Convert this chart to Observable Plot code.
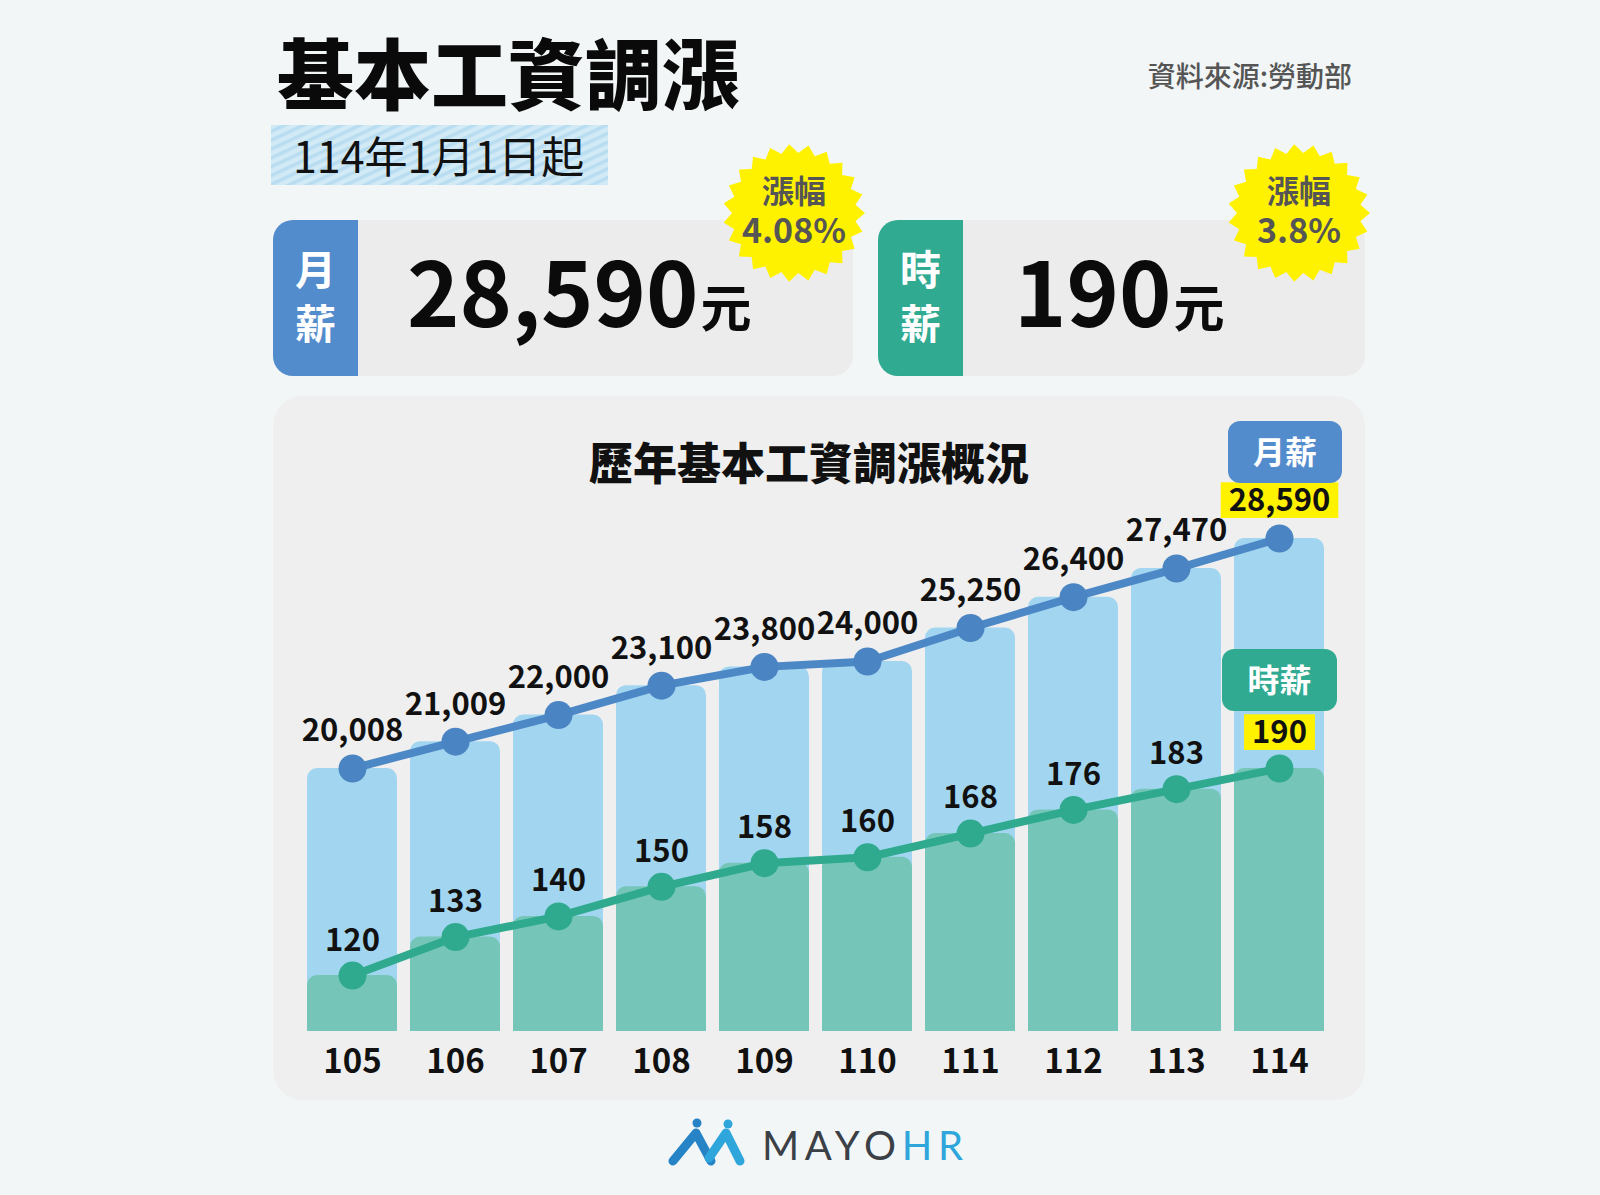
<!DOCTYPE html>
<html lang="zh-Hant"><head><meta charset="utf-8">
<script src="https://cdn.jsdelivr.net/npm/d3@7"></script>
<script src="https://cdn.jsdelivr.net/npm/@observablehq/plot@0.6"></script>
<style>
html,body{margin:0;padding:0}
body{width:1600px;height:1195px;background:#f2f6f7;position:relative;overflow:hidden;font-family:"Noto Sans CJK TC",sans-serif}
svg.layer{position:absolute;left:0;top:0}
#chart-m,#chart-h{position:absolute;left:273px;top:470px;width:1092px;height:630px}
</style></head><body>
<svg class="layer" id="bg" width="1600" height="1195"></svg>
<div id="chart-m"></div>
<div id="chart-h"></div>
<svg class="layer" id="fg" width="1600" height="1195"></svg>
<script>
// ---- data ----
const years = ["105","106","107","108","109","110","111","112","113","114"];
const monthly = [20008,21009,22000,23100,23800,24000,25250,26400,27470,28590];
const hourly = [120,133,140,150,158,160,168,176,183,190];
const raiseRates = ["4.08%","3.8%"];
const seriesNames = ["月薪","時薪"];
const mDomain = [10195, 29635];
const hDomain = [101.1, 277.2];

const F = '"Noto Sans CJK TC", "Noto Sans CJK SC", sans-serif';
const NS = "http://www.w3.org/2000/svg";
const fmt = d3.format(",");

// ---- background layer ----
const bg = d3.select("#bg");
function txt(sel, s, x, y, size, weight, fill, anchor) {
  return sel.append("text").attr("x", x).attr("y", y).attr("font-size", size)
    .attr("font-weight", weight).attr("fill", fill).attr("text-anchor", anchor || "start")
    .attr("font-family", F).text(s);
}
function txt2(sel, a, b, x, y, gap, size, sizeB, weight, fill) {
  const t = sel.append("text").attr("x", x).attr("y", y).attr("font-weight", weight)
    .attr("fill", fill).attr("text-anchor", "middle").attr("font-family", F);
  t.append("tspan").attr("x", x).attr("font-size", size).text(a);
  t.append("tspan").attr("x", x).attr("dy", gap).attr("font-size", sizeB).text(b);
  return t;
}
const defs = bg.append("defs");
const pat = defs.append("pattern").attr("id", "hatch").attr("patternUnits", "userSpaceOnUse")
  .attr("width", 8).attr("height", 8).attr("patternTransform", "rotate(-25)");
pat.append("rect").attr("width", 8).attr("height", 8).attr("fill", "#d2eaf6");
pat.append("rect").attr("width", 8).attr("height", 3.5).attr("fill", "#b8ddf0");

// title
txt(bg, "基本工資調漲", 277, 104, 77, 900, "#0a0a0a");
bg.append("rect").attr("x", 271).attr("y", 125).attr("width", 337).attr("height", 60).attr("fill", "url(#hatch)");
txt(bg, "114年1月1日起", 293, 173, 43, 400, "#111");
txt(bg, "資料來源:勞動部", 1352, 87, 28, 500, "#555", "end");

// cards
function card(x, w, tabColor, label) {
  const y0 = 220, h = 156, r = 20, tw = 85;
  bg.append("rect").attr("x", x).attr("y", y0).attr("width", w).attr("height", h).attr("rx", r).attr("fill", "#ececec");
  bg.append("path").attr("d", `M${x+tw},${y0} H${x+r} A${r},${r} 0 0 0 ${x},${y0+r} V${y0+h-r} A${r},${r} 0 0 0 ${x+r},${y0+h} H${x+tw} Z`).attr("fill", tabColor);
  txt2(bg, label[0], label[1], x + tw/2, 285, 54, 41, 41, 700, "#fff");
}
card(273, 580, "#538ccd", seriesNames[0]);
card(878, 487, "#30aa91", seriesNames[1]);
const n1 = txt(bg, "", 407, 327, 89, 700, "#0b0b0b");
n1.append("tspan").text(fmt(monthly[monthly.length-1]));
n1.append("tspan").attr("font-size", 51).attr("font-weight", 700).attr("dx", 2).text("元");
const n2 = txt(bg, "", 1014, 327, 89, 700, "#0b0b0b");
n2.append("tspan").text(fmt(hourly[hourly.length-1]));
n2.append("tspan").attr("font-size", 51).attr("font-weight", 700).attr("dx", 2).text("元");

function burst(cx, cy, R, rate) {
  const N = 46;
  const pts = d3.range(N).map(i => {
    const a = i / N * 2 * Math.PI;
    const r = i % 2 ? R - 9 : R;
    return [cx + r * Math.cos(a), cy + r * Math.sin(a) * 0.97];
  });
  bg.append("polygon").attr("points", pts.map(p => p.join(",")).join(" ")).attr("fill", "#fff200");
  txt2(bg, "漲幅", rate, cx, cy - 10, 40, 32, 34, 700, "#555");
}
burst(794, 213, 71, raiseRates[0]);
burst(1299, 213, 71, raiseRates[1]);

// chart panel
bg.append("rect").attr("x", 273).attr("y", 396).attr("width", 1092).attr("height", 704).attr("rx", 30).attr("fill", "#efefef");
txt(bg, "歷年基本工資調漲概況", 809, 480, 44, 900, "#111", "middle");

// logo
const logo = bg.append("g");
logo.append("path").attr("d", "M673,1161 L696,1133 L711,1161").attr("fill", "none")
  .attr("stroke", "#2684c6").attr("stroke-width", 9).attr("stroke-linecap", "round").attr("stroke-linejoin", "round");
logo.append("path").attr("d", "M709,1158 L726,1133 L740,1161").attr("fill", "none")
  .attr("stroke", "#2ea6dc").attr("stroke-width", 9).attr("stroke-linecap", "round").attr("stroke-linejoin", "round");
logo.append("circle").attr("cx", 697).attr("cy", 1123).attr("r", 4.5).attr("fill", "#2684c6");
logo.append("circle").attr("cx", 728).attr("cy", 1124).attr("r", 4.5).attr("fill", "#2ea6dc");
const lt = logo.append("text").attr("x", 762).attr("y", 1160).attr("font-size", 40)
  .attr("font-family", "Lato, 'Open Sans', sans-serif").attr("font-weight", 400)
  .attr("textLength", 201).attr("lengthAdjust", "spacing");
lt.append("tspan").attr("fill", "#3b4046").text("MAYO");
lt.append("tspan").attr("fill", "#2ea6dc").text("HR");

// ---- charts ----
const mData = years.map((year, i) => ({year, value: monthly[i]}));
const hData = years.map((year, i) => ({year, value: hourly[i]}));
const base = {
  width: 1092, height: 630, marginLeft: 19, marginRight: 27, marginTop: 40, marginBottom: 69,
  x: {type: "band", domain: years, padding: 0.13, label: null},
  style: {background: "transparent", fontFamily: F, color: "#111", overflow: "visible", fontWeight: 700}
};
const pm = Plot.plot({
  ...base,
  y: {domain: mDomain, axis: null},
  marks: [
    Plot.barY(mData, {x: "year", y1: mDomain[0], y2: "value", fill: "#a2d6f0", ry1: 10}),
    Plot.line(mData, {x: "year", y: "value", stroke: "#4c87c6", strokeWidth: 8}),
    Plot.dot(mData, {x: "year", y: "value", r: 14, fill: "#4a84c2"}),
    Plot.text(mData, {x: "year", y: "value", text: d => fmt(d.value), dy: -37, fontSize: 31, fontWeight: 700, fill: "#111"}),
    Plot.axisX({tickSize: 0, tickPadding: 18, fontSize: 33, fontWeight: 700})
  ]
});
document.getElementById("chart-m").appendChild(pm);

const ph = Plot.plot({
  ...base,
  x: {...base.x, axis: null},
  y: {domain: hDomain, axis: null},
  marks: [
    Plot.barY(hData, {x: "year", y1: hDomain[0], y2: "value", fill: "#75c6b8", ry1: 10}),
    Plot.line(hData, {x: "year", y: "value", stroke: "#2faa8e", strokeWidth: 8}),
    Plot.dot(hData, {x: "year", y: "value", r: 14, fill: "#2faa8e"}),
    Plot.text(hData, {x: "year", y: "value", text: d => fmt(d.value), dy: -35, fontSize: 31, fontWeight: 700, fill: "#111"})
  ]
});
document.getElementById("chart-h").appendChild(ph);

function highlight(svg, label, size, padX) {
  const t = Array.from(svg.querySelectorAll("text")).find(e => e.textContent === label);
  if (!t) return;
  const b = t.getBBox();
  const baseline = b.y + b.height * (1160 / 1448);
  const cy = baseline - 0.366 * size;
  const h = size * 1.15;
  const r = document.createElementNS(NS, "rect");
  r.setAttribute("x", b.x - padX);
  r.setAttribute("width", b.width + 2 * padX);
  r.setAttribute("y", cy - h / 2);
  r.setAttribute("height", h);
  r.setAttribute("fill", "#fff200");
  r.setAttribute("stroke", "none");
  if (t.getAttribute("transform")) r.setAttribute("transform", t.getAttribute("transform"));
  t.parentNode.insertBefore(r, t);
}
highlight(pm, fmt(monthly[monthly.length-1]), 31, 8);
highlight(ph, fmt(hourly[hourly.length-1]), 31, 8);

// ---- legend boxes (top layer) ----
const fg = d3.select("#fg");
function legendBox(x, y, w, h, color, label) {
  fg.append("rect").attr("x", x).attr("y", y).attr("width", w).attr("height", h).attr("rx", 12).attr("fill", color);
  txt(fg, label, x + w / 2, y + h / 2 + 11.5, 32, 700, "#fff", "middle");
}
legendBox(1228, 421, 114, 62, "#538ccd", seriesNames[0]);
legendBox(1222, 649, 115, 62, "#30aa91", seriesNames[1]);
</script></body></html>
